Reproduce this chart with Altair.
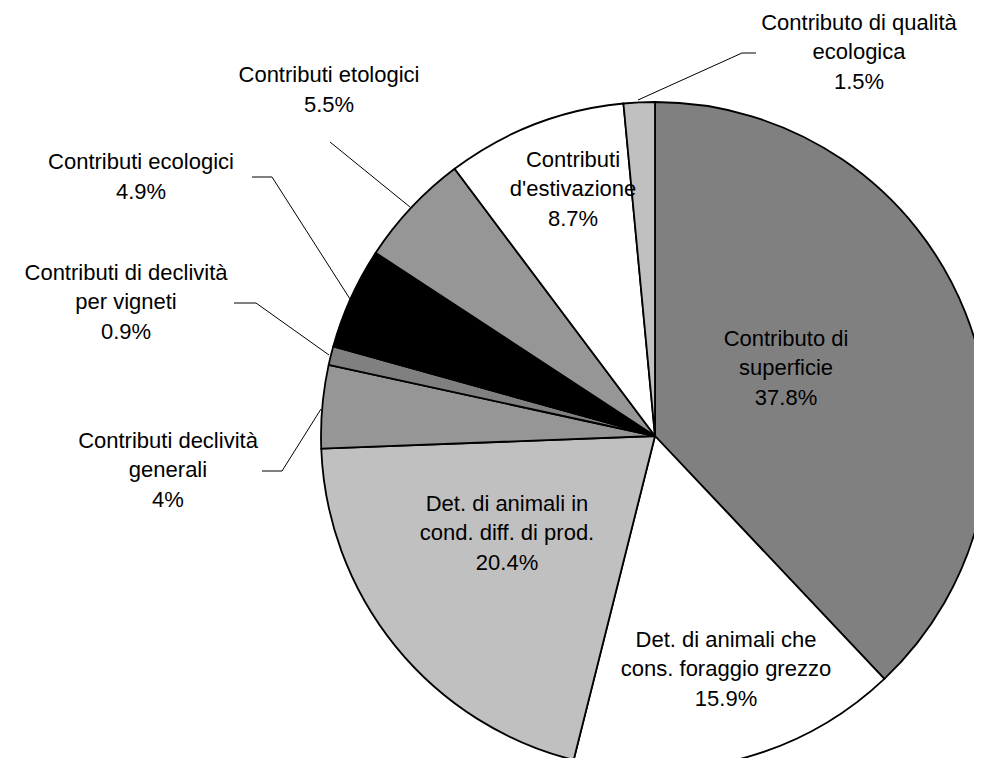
import altair as alt
import pandas as pd

# Slice data (clockwise from 12 o'clock)
categories = [
    "Contributo di superficie",
    "Det. di animali che cons. foraggio grezzo",
    "Det. di animali in cond. diff. di prod.",
    "Contributi declività generali",
    "Contributi di declività per vigneti",
    "Contributi ecologici",
    "Contributi etologici",
    "Contributi d'estivazione",
    "Contributo di qualità ecologica",
]
values = [37.8, 15.9, 20.4, 4.0, 0.9, 4.9, 5.5, 8.7, 1.5]
pct_labels = ["37.8%", "15.9%", "20.4%", "4%", "0.9%", "4.9%", "5.5%", "8.7%", "1.5%"]
colors = ["#808080", "#ffffff", "#c0c0c0", "#969696", "#808080",
          "#000000", "#969696", "#ffffff", "#c0c0c0"]

# Label text lines
label_lines = [
    "Contributo di\nsuperficie",
    "Det. di animali che\ncons. foraggio grezzo",
    "Det. di animali in\ncond. diff. di prod.",
    "Contributi declività\ngenerali",
    "Contributi di declività\nper vigneti",
    "Contributi ecologici",
    "Contributi etologici",
    "Contributi\nd'estivazione",
    "Contributo di qualità\necologica",
]
# Label block centres (page pixels)
label_x = [786, 726, 507, 168, 126, 141, 329, 573, 859]
label_y = [368, 669, 533, 470, 302, 177, 90, 189, 52]

# Leader lines (page pixels), one polyline per outside label
leaders = {
    "qualita": [(638, 100), (742, 53), (756, 53)],
    "etologici": [(330, 142), (410, 207)],
    "ecologici": [(252, 177), (272, 177), (350, 299)],
    "vigneti": [(234, 303), (256, 303), (329, 355)],
    "generali": [(262, 471), (282, 471), (321, 409)],
}

M = 8  # page margin
W, H = 966, 750
CX, CY, R = 655 - M, 436 - M, 334
LH = 29.5

pie_df = pd.DataFrame({
    "cat": categories,
    "value": values,
    "order": list(range(len(categories))),
})

texts_full = [l + "\n" + p for l, p in zip(label_lines, pct_labels)]
lab_df = pd.DataFrame({
    "text": texts_full,
    "x": [v - M for v in label_x],
    # y of the first line so that the whole block is centred on label_y
    "y": [v - M - (t.count("\n")) * LH / 2 for v, t in zip(label_y, texts_full)],
})

rows = []
for name, pts in leaders.items():
    for i, (x, y) in enumerate(pts):
        rows.append({"line": name, "i": i, "x": x - M, "y": y - M})
lead_df = pd.DataFrame(rows)

pie = alt.Chart(pie_df).mark_arc(
    outerRadius=R, stroke="#000000", strokeWidth=1.8, strokeJoin="round"
).encode(
    theta=alt.Theta("value:Q", stack=True),
    order=alt.Order("order:Q"),
    color=alt.Color("cat:N", scale=alt.Scale(domain=categories, range=colors), legend=None),
    x=alt.value(CX),
    y=alt.value(CY),
)

lines = alt.Chart(lead_df).mark_line(color="#000000", strokeWidth=1).encode(
    x=alt.X("x:Q", scale=None, axis=None),
    y=alt.Y("y:Q", scale=None, axis=None),
    detail="line:N",
    order="i:Q",
)

texts = alt.Chart(lab_df).mark_text(
    font="Liberation Sans", fontSize=22, lineBreak="\n", lineHeight=LH,
    align="center", baseline="middle", color="#000000",
).encode(
    x=alt.X("x:Q", scale=None, axis=None),
    y=alt.Y("y:Q", scale=None, axis=None),
    text="text:N",
)

chart = alt.layer(pie, lines, texts).properties(
    width=W, height=H, padding=0, autosize=alt.AutoSizeParams(type="none"),
).configure_view(stroke=None)

chart.save("out.html", embed_options={"renderer": "svg", "actions": False})
